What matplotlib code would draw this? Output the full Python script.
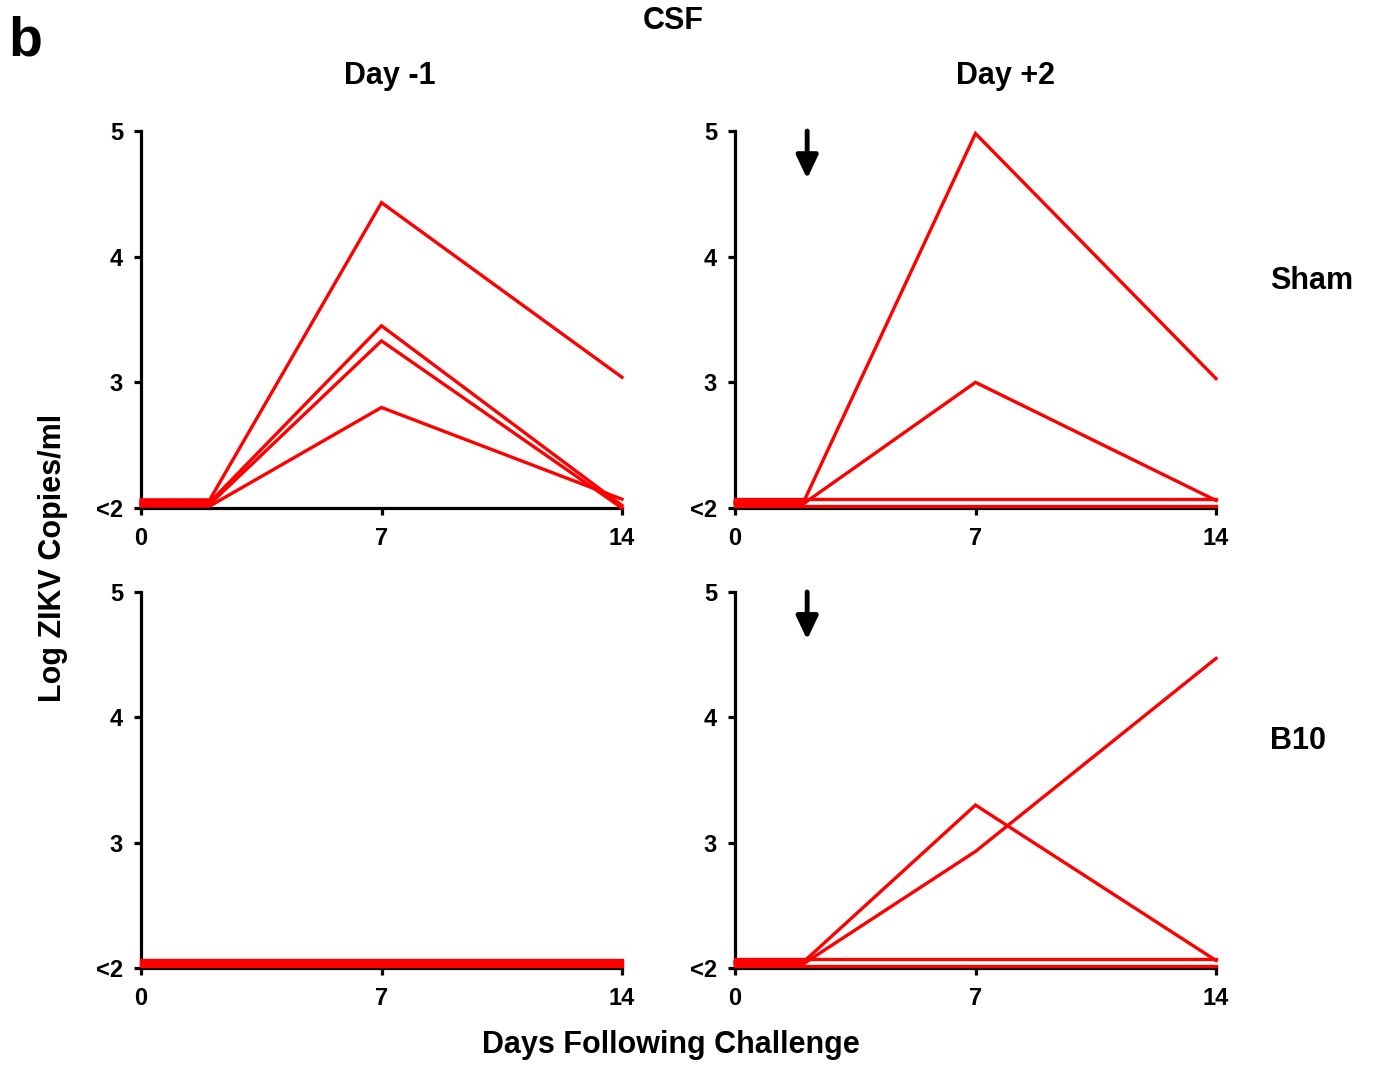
import matplotlib
matplotlib.use("Agg")
import matplotlib.pyplot as plt

plt.rcParams['font.family'] = ['Liberation Sans', 'DejaVu Sans']
plt.rcParams['font.weight'] = 'bold'

# sampling days
days = [0, 2, 7, 14]

# Log ZIKV copies/ml per animal (2 = below detection, "<2")
sham_day_m1 = [
    [2.065, 2.065, 4.43, 3.04],
    [2.045, 2.045, 3.45, 2.02],
    [2.03, 2.03, 3.33, 2.00],
    [2.015, 2.015, 2.80, 2.07],
]
sham_day_p2 = [
    [2.05, 2.05, 4.98, 3.03],
    [2.035, 2.035, 3.00, 2.06],
    [2.07, 2.07, 2.07, 2.07],
    [2.015, 2.015, 2.015, 2.015],
]
b10_day_m1 = [
    [2.015, 2.015, 2.015, 2.015],
    [2.03, 2.03, 2.03, 2.03],
    [2.05, 2.05, 2.05, 2.05],
    [2.065, 2.065, 2.065, 2.065],
]
b10_day_p2 = [
    [2.05, 2.05, 3.30, 2.06],
    [2.035, 2.035, 2.93, 4.47],
    [2.07, 2.07, 2.07, 2.07],
    [2.015, 2.015, 2.015, 2.015],
]

panels = [sham_day_m1, sham_day_p2, b10_day_m1, b10_day_p2]
has_arrow = [False, True, False, True]
arrow_day = 2.1

yticks = [2, 3, 4, 5]
ytick_labels = ['<2', '3', '4', '5']
xticks = [0, 7, 14]

W, H = 1376, 1068
fig = plt.figure(figsize=(W / 100, H / 100), dpi=100)

# axes boxes in pixels: left, top, right, bottom
boxes = [
    (141, 131, 622, 508),
    (735, 131, 1216, 508),
    (141, 592, 622, 968),
    (735, 592, 1216, 968),
]

for box, data, arrow in zip(boxes, panels, has_arrow):
    l, t, r, b = box
    ax = fig.add_axes([l / W, 1 - b / H, (r - l) / W, (b - t) / H])
    for series in data:
        ax.plot(days, series, color='#ff0000', lw=2.4, clip_on=False,
                solid_joinstyle='miter', zorder=3)
    ax.set_xlim(0, 14)
    ax.set_ylim(2, 5)
    ax.set_xticks(xticks)
    ax.set_yticks(yticks)
    ax.set_yticklabels(ytick_labels)
    for side in ['top', 'right']:
        ax.spines[side].set_visible(False)
    for side in ['left', 'bottom']:
        ax.spines[side].set_linewidth(2.3)
        ax.spines[side].set_zorder(2)
    ax.tick_params(axis='both', direction='out', length=5, width=2.3,
                   labelsize=17)
    ax.tick_params(axis='x', pad=9)
    ax.tick_params(axis='y', pad=8)
    for lab in ax.get_xticklabels() + ax.get_yticklabels():
        lab.set_fontweight('bold')
    if arrow:
        ax.annotate('', xy=(arrow_day, 4.62), xytext=(arrow_day, 5.0),
                    arrowprops=dict(arrowstyle='-|>,head_width=0.33,head_length=0.7',
                                    mutation_scale=20, lw=3.5, color='black',
                                    shrinkA=0, shrinkB=0))

def ftext(x, y, s, **kw):
    fig.text(x / W, 1 - y / H, s, fontweight='bold', **kw)

ftext(8, 42, 'b', fontsize=40, ha='left', va='center')
ftext(673, 21, 'CSF', fontsize=22, ha='center', va='center')
ftext(390, 76, 'Day -1', fontsize=22, ha='center', va='center')
ftext(1005, 76, 'Day +2', fontsize=22, ha='center', va='center')
ftext(1270, 281, 'Sham', fontsize=22, ha='left', va='center')
ftext(1270, 741, 'B10', fontsize=22, ha='left', va='center')
ftext(53, 558, 'Log ZIKV Copies/ml', fontsize=22, ha='center', va='center',
      rotation=90)
ftext(671, 1045, 'Days Following Challenge', fontsize=22, ha='center',
      va='center')

fig.savefig('out.png', dpi=100)
